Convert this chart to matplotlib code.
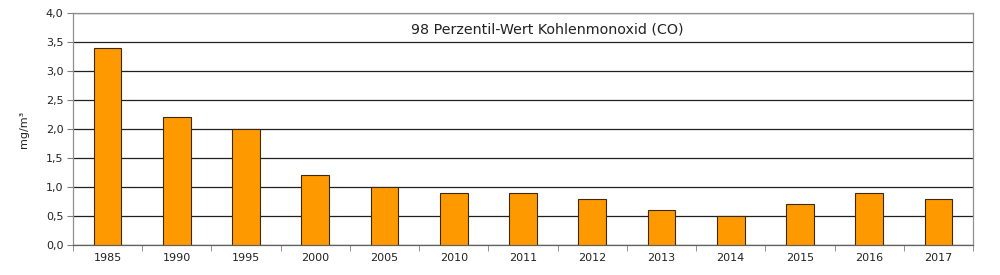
import numpy as np
import matplotlib.pyplot as plt
from matplotlib.ticker import FuncFormatter, FixedLocator

# Daten
jahre = ['1985', '1990', '1995', '2000', '2005', '2010', '2011', '2012',
         '2013', '2014', '2015', '2016', '2017']
werte = [3.4, 2.2, 2.0, 1.2, 1.0, 0.9, 0.9, 0.8, 0.6, 0.5, 0.7, 0.9, 0.8]
titel = '98 Perzentil-Wert Kohlenmonoxid (CO)'

fig = plt.figure(figsize=(10, 2.75), dpi=100)
ax = fig.add_axes([0.073, 0.109, 0.9, 0.844])

x = np.arange(len(jahre))
ax.set_axisbelow(True)
ax.yaxis.grid(True, color='#202020', linewidth=0.9)
ax.bar(x, werte, width=0.4, color='#ff9900', edgecolor='#3a2a10', linewidth=0.8, zorder=3)

ax.set_xlim(-0.5, len(jahre) - 0.5)
ax.set_ylim(0, 4.0)
ax.set_yticks(np.arange(0, 4.01, 0.5))
ax.yaxis.set_major_formatter(FuncFormatter(lambda v, p: f'{v:.1f}'.replace('.', ',')))

ax.set_xticks(x)
ax.set_xticklabels(jahre)
ax.tick_params(axis='x', which='major', length=0, pad=6)
ax.xaxis.set_minor_locator(FixedLocator(np.arange(-0.5, len(jahre), 1.0)))
ax.tick_params(axis='x', which='minor', length=4, color='#808080', direction='out')
ax.tick_params(axis='y', length=4, color='#808080', direction='out', pad=3)
ax.tick_params(labelsize=8, labelcolor='#222222')

for s in ax.spines.values():
    s.set_color('#909090')
    s.set_linewidth(0.9)
ax.spines['bottom'].set_color('#606060')

ax.set_ylabel('mg/m³', fontsize=8, color='#222222', labelpad=12)
ax.text(0.527, 0.93, titel, transform=ax.transAxes, ha='center', va='center',
        fontsize=10.3, color='#222222')

fig.savefig('out.png', dpi=100)
